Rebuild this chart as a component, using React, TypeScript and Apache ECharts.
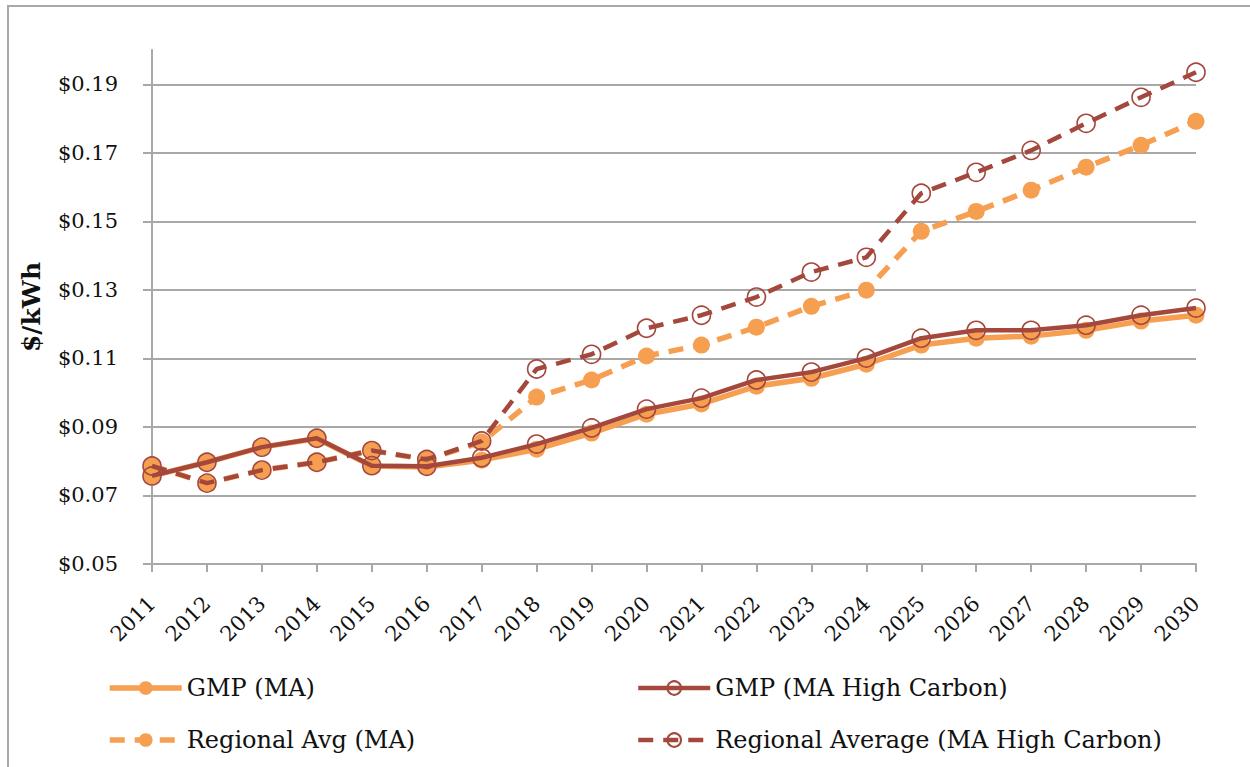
import React, { useEffect, useRef } from "react";
import * as echarts from "echarts";

const years = ["2011","2012","2013","2014","2015","2016","2017","2018","2019","2020","2021","2022","2023","2024","2025","2026","2027","2028","2029","2030"];
const gmpMA = [0.0757,0.0797,0.0841,0.0866,0.0786,0.0783,0.0803,0.0835,0.0882,0.0937,0.0967,0.1019,0.1042,0.1083,0.1139,0.1159,0.1165,0.1182,0.1209,0.1226];
const gmpHC = [0.0757,0.0797,0.0841,0.0867,0.0787,0.0785,0.0810,0.0850,0.0897,0.0952,0.0984,0.1037,0.1060,0.1101,0.1159,0.1182,0.1182,0.1197,0.1226,0.1247];
const regMA = [0.0786,0.0736,0.0774,0.0797,0.0831,0.0805,0.0856,0.0987,0.1037,0.1107,0.1139,0.1191,0.1252,0.1299,0.1471,0.1529,0.1591,0.1658,0.1722,0.1792];
const regHC = [0.0786,0.0736,0.0774,0.0797,0.0831,0.0805,0.0859,0.1069,0.1112,0.1188,0.1226,0.1279,0.1352,0.1395,0.1582,0.1643,0.1707,0.1786,0.1862,0.1935];
const yTicks = [0.05,0.07,0.09,0.11,0.13,0.15,0.17,0.19];

const ORANGE = "#F69F50";
const RED = "#A4473C";
const GRID = "#A8A8A8";
const FONT = "DejaVu Serif";

export default function App() {
  const ref = useRef<HTMLDivElement>(null);
  useEffect(() => {
    const chart = echarts.init(ref.current!, null, { renderer: "svg" });
    const orangeSeries = (name: string, data: number[], dashed: boolean) => ({
      name, type: "line", data,
      symbol: "circle", symbolSize: 17,
      itemStyle: { color: ORANGE },
      lineStyle: { color: ORANGE, width: 5.5, type: dashed ? [15, 10] : "solid" },
      z: 2,
    });
    const redSeries = (name: string, data: number[], dashed: boolean) => ({
      name, type: "line", data,
      symbol: "circle", symbolSize: 18,
      itemStyle: { color: "rgba(255,255,255,0)", borderColor: RED, borderWidth: 1.6 },
      lineStyle: { color: RED, width: 4.5, type: dashed ? [15, 10] : "solid" },
      z: 3,
    });
    const legendBase = {
      orient: "vertical", itemWidth: 72, itemHeight: 17, itemGap: 28, padding: 0,
      textStyle: { fontFamily: FONT, fontSize: 24, color: "#111" },
    };
    chart.setOption({
      animation: false,
      backgroundColor: "#fff",
      graphic: [{ type: "rect", shape: { x: 8, y: 6, width: 1300, height: 800 }, style: { fill: "none", stroke: "#A8A8A8", lineWidth: 2 }, silent: true }],
      grid: { left: 152, right: 54, top: 50, bottom: 203 },
      xAxis: {
        type: "category", data: years, boundaryGap: false,
        axisLine: { lineStyle: { color: GRID, width: 2 } },
        axisTick: { show: true, length: 8, lineStyle: { color: GRID, width: 2 } },
        axisLabel: { rotate: 45, fontFamily: FONT, fontSize: 21, color: "#111", margin: 36, interval: 0 },
      },
      yAxis: {
        type: "value", min: 0.05, max: 0.2,
        name: "$/kWh", nameLocation: "middle", nameGap: 108,
        nameTextStyle: { fontFamily: FONT, fontSize: 25, fontWeight: "bold", color: "#111" },
        axisLine: { show: true, lineStyle: { color: GRID, width: 2 } },
        axisTick: { show: true, length: 9, customValues: yTicks, lineStyle: { color: GRID, width: 2 } },
        axisLabel: { customValues: yTicks, fontFamily: FONT, fontSize: 21, color: "#111", margin: 34, formatter: (v: number) => "$" + v.toFixed(2) },
        splitLine: { show: true, lineStyle: { color: GRID, width: 2 } },
      },
      legend: [
        { ...legendBase, left: 107, top: 676, lineStyle: { width: 5.5 }, data: ["GMP (MA)", "Regional Avg (MA)"] },
        { ...legendBase, left: 636, top: 676, lineStyle: { width: 4.5 }, data: ["GMP (MA High Carbon)", "Regional Average (MA High Carbon)"] },
      ],
      series: [
        orangeSeries("GMP (MA)", gmpMA, false),
        orangeSeries("Regional Avg (MA)", regMA, true),
        redSeries("GMP (MA High Carbon)", gmpHC, false),
        redSeries("Regional Average (MA High Carbon)", regHC, true),
      ],
    });
    return () => chart.dispose();
  }, []);
  return <div ref={ref} style={{ width: 1250, height: 767, position: "absolute", left: 0, top: 0 }} />;
}
